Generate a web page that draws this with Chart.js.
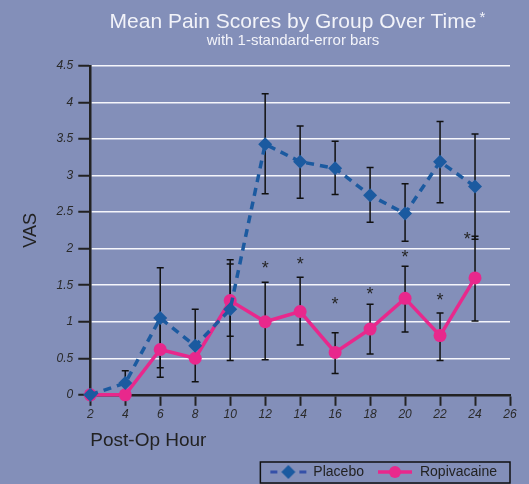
<!DOCTYPE html>
<html lang="en">
<head>
<meta charset="utf-8">
<title>Mean Pain Scores by Group Over Time</title>
<script src="https://cdn.jsdelivr.net/npm/chart.js@4/dist/chart.umd.min.js"></script>
<style>
    html, body { margin: 0; padding: 0; background: #838fb9; }
    #painChart { display: block; }
</style>
</head>
<body>
<canvas id="painChart" width="529" height="484"></canvas>

<script type="text/javascript">

    // post-op hour on the x axis
    const hours = [2, 4, 6, 8, 10, 12, 14, 16, 18, 20, 22, 24];

    // mean VAS and the ends of the 1-SE bars (null = no bar drawn)
    const placebo     = [0, 0.16, 1.05, 0.67, 1.17, 3.43, 3.19, 3.10, 2.73, 2.48, 3.19, 2.85];
    const placeboLow  = [null, 0, 0.37, 0.18, 0.47, 2.75, 2.69, 2.74, 2.36, 2.10, 2.63, 2.13];
    const placeboHigh = [null, 0.33, 1.74, 1.17, 1.85, 4.12, 3.68, 3.47, 3.11, 2.89, 3.74, 3.57];

    const ropivacaine = [0, 0, 0.62, 0.50, 1.29, 1.00, 1.14, 0.58, 0.90, 1.32, 0.81, 1.60];
    const ropLow      = [null, null, 0.24, null, 0.80, 0.48, 0.68, 0.29, 0.56, 0.86, 0.47, 1.01];
    const ropHigh     = [null, null, 1.00, null, 1.79, 1.54, 1.61, 0.85, 1.24, 1.76, 1.12, 2.17];

    // significance marks (hour, VAS height)
    const starHours = [12, 14, 16, 18, 20, 22, 23.55];
    const starVals  = [1.80, 1.85, 1.30, 1.44, 1.94, 1.36, 2.19];

    const FONT = "'Liberation Sans', Arial, sans-serif";
    const BLUE = "#1b5aa0";
    const PINK = "#e8288c";
    const INK = "#222";

    function makeIcon(w, h, draw) {
        const c = document.createElement("canvas");
        c.width = w;
        c.height = h;
        draw(c.getContext("2d"), w, h);
        return c;
    }

    const placeboIcon = makeIcon(38, 16, (ctx, w, h) => {
        ctx.strokeStyle = "#3550a8";
        ctx.lineWidth = 3;
        ctx.beginPath();
        ctx.moveTo(1, h / 2); ctx.lineTo(8, h / 2);
        ctx.moveTo(w - 8, h / 2); ctx.lineTo(w - 1, h / 2);
        ctx.stroke();
        ctx.fillStyle = BLUE;
        ctx.beginPath();
        ctx.moveTo(w / 2, 1); ctx.lineTo(w / 2 + 7, h / 2);
        ctx.lineTo(w / 2, h - 1); ctx.lineTo(w / 2 - 7, h / 2);
        ctx.closePath();
        ctx.fill();
    });

    const ropIcon = makeIcon(34, 14, (ctx, w, h) => {
        ctx.strokeStyle = PINK;
        ctx.lineWidth = 3.5;
        ctx.beginPath();
        ctx.moveTo(0, h / 2); ctx.lineTo(w, h / 2);
        ctx.stroke();
        ctx.fillStyle = PINK;
        ctx.beginPath();
        ctx.arc(w / 2, h / 2, 6, 0, Math.PI * 2);
        ctx.fill();
    });

    const backgroundPlugin = {
        id: "background",
        beforeDraw(chart) {
            const ctx = chart.ctx;
            ctx.save();
            ctx.fillStyle = "#838fb9";
            ctx.fillRect(0, 0, chart.width, chart.height);
            ctx.restore();
        }
    };

    const titlePlugin = {
        id: "titles",
        afterDraw(chart) {
            const ctx = chart.ctx;
            const main = "Mean Pain Scores by Group Over Time";
            ctx.save();
            ctx.fillStyle = "#f2f3f9";
            ctx.textBaseline = "alphabetic";
            ctx.textAlign = "center";
            ctx.font = "21px " + FONT;
            ctx.fillText(main, 293, 28);
            const w = ctx.measureText(main).width;
            ctx.textAlign = "left";
            ctx.font = "15px " + FONT;
            ctx.fillText("*", 293 + w / 2 + 3, 22);
            ctx.textAlign = "center";
            ctx.font = "15px " + FONT;
            ctx.fillText("with 1-standard-error bars", 293, 45);
            ctx.restore();
        }
    };

    const errorBarPlugin = {
        id: "errorBars",
        beforeDatasetsDraw(chart) {
            const {ctx, scales: {x, y}} = chart;
            ctx.save();
            ctx.strokeStyle = "#111";
            ctx.lineWidth = 1.5;
            [[placeboLow, placeboHigh], [ropLow, ropHigh]].forEach(([lo, hi]) => {
                hours.forEach((h, i) => {
                    if (lo[i] === null) return;
                    const px = x.getPixelForValue(h);
                    const y1 = y.getPixelForValue(lo[i]);
                    const y2 = y.getPixelForValue(hi[i]);
                    ctx.beginPath();
                    ctx.moveTo(px, y1); ctx.lineTo(px, y2);
                    ctx.moveTo(px - 3.5, y1); ctx.lineTo(px + 3.5, y1);
                    ctx.moveTo(px - 3.5, y2); ctx.lineTo(px + 3.5, y2);
                    ctx.stroke();
                });
            });
            ctx.restore();
        }
    };

    const starPlugin = {
        id: "stars",
        afterDatasetsDraw(chart) {
            const {ctx, scales: {x, y}} = chart;
            const size = 18;
            ctx.save();
            ctx.fillStyle = "#262626";
            ctx.font = size + "px " + FONT;
            ctx.textAlign = "center";
            ctx.textBaseline = "alphabetic";
            starHours.forEach((h, i) => {
                ctx.fillText("*", x.getPixelForValue(h), y.getPixelForValue(starVals[i]) + size * 0.57);
            });
            ctx.restore();
        }
    };

    const legendBoxPlugin = {
        id: "legendBox",
        afterDraw(chart) {
            const boxes = chart.legend && chart.legend.legendHitBoxes;
            if (!boxes || !boxes.length) return;
            const first = boxes[0];
            const last = boxes[boxes.length - 1];
            const ctx = chart.ctx;
            ctx.save();
            ctx.strokeStyle = "#111";
            ctx.lineWidth = 1.5;
            const x0 = first.left - 10;
            const x1 = last.left + last.width + 13;
            const y0 = first.top - 3;
            const y1 = first.top + first.height + 4;
            ctx.strokeRect(x0, y0, x1 - x0, y1 - y0);
            ctx.restore();
        }
    };

    new Chart("painChart", {
        type: "line",
        data: {
            datasets: [
                {
                    label: "Placebo",
                    data: hours.map((h, i) => ({x: h, y: placebo[i]})),
                    borderColor: BLUE,
                    backgroundColor: BLUE,
                    borderWidth: 3.5,
                    borderDash: [8, 6],
                    pointStyle: "rectRot",
                    pointRadius: 7,
                    pointBorderWidth: 0,
                    clip: false
                },
                {
                    label: "Ropivacaine",
                    data: hours.map((h, i) => ({x: h, y: ropivacaine[i]})),
                    borderColor: PINK,
                    backgroundColor: PINK,
                    borderWidth: 3.5,
                    pointStyle: "circle",
                    pointRadius: 6.5,
                    pointBorderWidth: 0,
                    clip: false
                }
            ]
        },
        options: {
            responsive: false,
            animation: false,
            layout: {padding: {top: 66, left: 14, right: 19, bottom: -5}},
            scales: {
                x: {
                    type: "linear",
                    min: 2,
                    max: 26,
                    ticks: {
                        stepSize: 2,
                        padding: 2,
                        color: "#2a2a2a",
                        font: {family: FONT, size: 12, style: "italic"}
                    },
                    grid: {drawOnChartArea: false, tickLength: 11, tickColor: INK, tickWidth: 2},
                    border: {color: INK, width: 2.5},
                    title: {
                        display: true,
                        text: "Post-Op Hour",
                        align: "start",
                        color: INK,
                        font: {family: FONT, size: 19},
                        padding: {top: 5, bottom: 0}
                    }
                },
                y: {
                    min: 0,
                    max: 4.5,
                    ticks: {
                        stepSize: 0.5,
                        padding: 5,
                        color: "#2a2a2a",
                        font: {family: FONT, size: 12, style: "italic"},
                        callback: v => String(v)
                    },
                    grid: {color: "#f5f6fb", lineWidth: 1.5, tickLength: 12, tickColor: INK, tickWidth: 2},
                    border: {color: INK, width: 2.5},
                    title: {
                        display: true,
                        text: "VAS",
                        color: INK,
                        font: {family: FONT, size: 18},
                        padding: {top: 6, bottom: 10}
                    }
                }
            },
            plugins: {
                title: {display: false},
                tooltip: {enabled: false},
                legend: {
                    position: "bottom",
                    align: "end",
                    labels: {
                        usePointStyle: true,
                        pointStyleWidth: 36,
                        padding: 13,
                        color: INK,
                        font: {family: FONT, size: 14},
                        generateLabels: chart => chart.data.datasets.map((ds, i) => ({
                            text: ds.label,
                            pointStyle: i === 0 ? placeboIcon : ropIcon,
                            datasetIndex: i,
                            hidden: false,
                            lineWidth: 0,
                            fillStyle: "transparent",
                            strokeStyle: "transparent",
                            fontColor: INK
                        }))
                    }
                }
            }
        },
        plugins: [backgroundPlugin, errorBarPlugin, starPlugin, titlePlugin, legendBoxPlugin]
    });

</script>
</body>
</html>
